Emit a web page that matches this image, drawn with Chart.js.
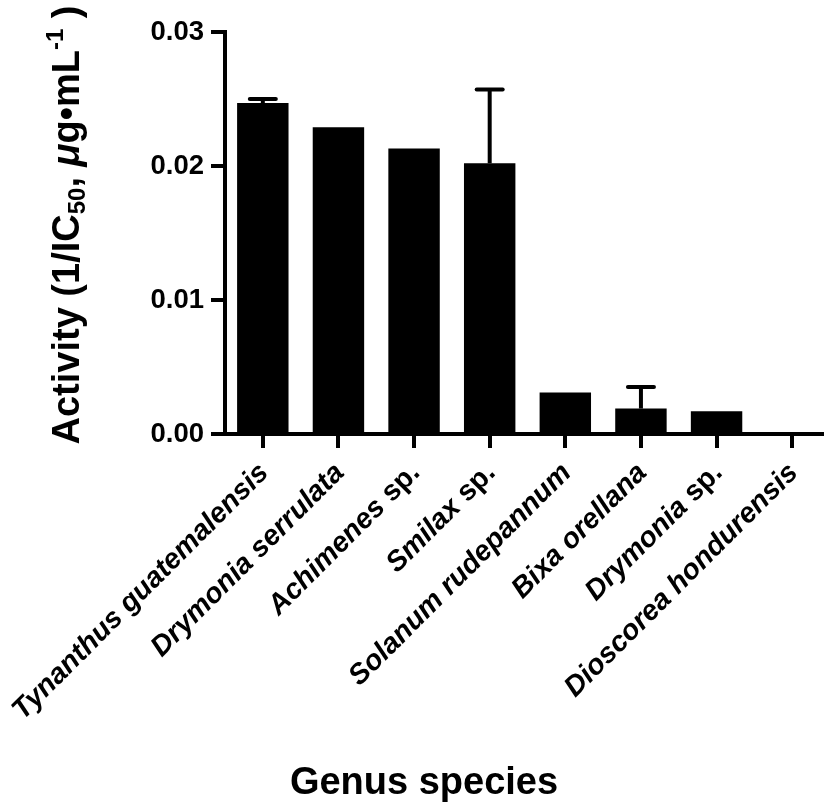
<!DOCTYPE html>
<html>
<head>
<meta charset="utf-8">
<title>Activity by genus species</title>
<script src="https://cdn.jsdelivr.net/npm/chart.js@4.4.1/dist/chart.umd.min.js"></script>
<style>
    html, body { margin: 0; padding: 0; background: #fff; overflow: hidden; }
    #wrap { width: 824px; height: 803px; overflow: hidden; }
    canvas { display: block; }
</style>
</head>
<body>
<div id="wrap">
    <canvas id="activityChart" width="840" height="803" style="width:840px;height:803px"></canvas>
</div>
<script>
// data
var genus = ['Tynanthus', 'Drymonia', 'Achimenes', 'Smilax', 'Solanum', 'Bixa', 'Drymonia', 'Dioscorea'];
var species = ['guatemalensis', 'serrulata', 'sp.', 'sp.', 'rudepannum', 'orellana', 'sp.', 'hondurensis'];
var activity = [0.0247, 0.0229, 0.0213, 0.0202, 0.0031, 0.0019, 0.0017, 0.0000];
var activityErr = [0.0003, 0, 0, 0.0055, 0, 0.0016, 0, 0];
var yTicks = [0.00, 0.01, 0.02, 0.03];

(function () {
    var FONT = "'Liberation Sans', Arial, Helvetica, sans-serif";
    var labels = genus.map(function (g, i) { return g + ' ' + species[i]; });

    // upward-only error bars with a cap
    var errorBars = {
        id: 'errorBars',
        afterDatasetsDraw: function (chart) {
            var ctx = chart.ctx;
            var y = chart.scales.y;
            var meta = chart.getDatasetMeta(0);
            ctx.save();
            ctx.strokeStyle = '#000';
            ctx.lineWidth = 4;
            meta.data.forEach(function (bar, i) {
                if (!activityErr[i]) return;
                var top = y.getPixelForValue(activity[i] + activityErr[i]);
                var base = y.getPixelForValue(activity[i]);
                ctx.lineCap = 'butt';
                ctx.beginPath();
                ctx.moveTo(bar.x, base);
                ctx.lineTo(bar.x, top);
                ctx.stroke();
                ctx.lineCap = 'round';
                ctx.beginPath();
                ctx.moveTo(bar.x - 13, top);
                ctx.lineTo(bar.x + 13, top);
                ctx.stroke();
            });
            ctx.restore();
        }
    };

    // draws a row of styled pieces starting at x=0 on the current baseline
    function drawPieces(ctx, pieces) {
        var x = 0;
        pieces.forEach(function (p) {
            ctx.font = p.font;
            ctx.fillText(p.text, x, p.dy || 0);
            x += ctx.measureText(p.text).width;
        });
        return x;
    }
    function measurePieces(ctx, pieces) {
        var w = 0;
        pieces.forEach(function (p) {
            ctx.font = p.font;
            w += ctx.measureText(p.text).width;
        });
        return w;
    }

    // italic genus names, upright "sp.", plus the axis titles
    var textLayer = {
        id: 'textLayer',
        afterDraw: function (chart) {
            var ctx = chart.ctx;
            var x = chart.scales.x;
            var area = chart.chartArea;
            var it = 'italic bold 28.5px ' + FONT;
            var up = 'bold 28.5px ' + FONT;

            ctx.save();
            ctx.fillStyle = '#000';
            ctx.textBaseline = 'alphabetic';
            ctx.textAlign = 'left';
            genus.forEach(function (g, i) {
                var pieces = [{ text: g + ' ', font: it }];
                pieces.push({ text: species[i], font: species[i] === 'sp.' ? up : it });
                var w = measurePieces(ctx, pieces);
                ctx.save();
                ctx.translate(x.getPixelForTick(i) + 7, area.bottom + 40);
                ctx.rotate(-Math.PI / 4);
                ctx.translate(-w, 0);
                drawPieces(ctx, pieces);
                ctx.restore();
            });

            // y title
            var big = 'bold 38px ' + FONT;
            var small = 'bold 24px ' + FONT;
            var title = [
                { text: 'Activity (1/IC', font: big },
                { text: '50', font: small, dy: 6 },
                { text: ', ', font: big },
                { text: 'μ', font: 'italic bold 38px ' + FONT },
                { text: 'g•mL', font: big },
                { text: '-1', font: small, dy: -16 },
                { text: ' )', font: big }
            ];
            var tw = measurePieces(ctx, title);
            ctx.save();
            ctx.translate(79, 225);
            ctx.rotate(-Math.PI / 2);
            ctx.translate(-tw / 2, 0);
            drawPieces(ctx, title);
            ctx.restore();

            // x title
            ctx.font = 'bold 38px ' + FONT;
            ctx.textAlign = 'center';
            ctx.fillText('Genus species', 424, 794);
            ctx.restore();
        }
    };

    var ctx = document.getElementById('activityChart').getContext('2d');
    new Chart(ctx, {
        type: 'bar',
        data: {
            labels: labels,
            datasets: [{
                data: activity,
                backgroundColor: '#000',
                borderWidth: 0,
                categoryPercentage: 1,
                barPercentage: 0.68
            }]
        },
        options: {
            responsive: false,
            animation: false,
            layout: { padding: { top: 32, right: 10, left: 0, bottom: 0 } },
            plugins: { legend: { display: false }, tooltip: { enabled: false } },
            scales: {
                x: {
                    offset: true,
                    grid: { offset: false, drawOnChartArea: false, drawTicks: true, tickLength: 14, lineWidth: 4, color: '#000' },
                    border: { display: true, color: '#000', width: 4 },
                    ticks: { display: false },
                    afterFit: function (s) { s.height = 803 - 434; }
                },
                y: {
                    min: 0,
                    max: 0.03,
                    afterBuildTicks: function (s) { s.ticks = yTicks.map(function (v) { return { value: v }; }); },
                    grid: { drawOnChartArea: false, drawTicks: true, tickLength: 14, lineWidth: 4, color: '#000' },
                    border: { display: true, color: '#000', width: 4 },
                    ticks: {
                        color: '#000',
                        padding: 7,
                        font: { family: FONT, size: 27.5, weight: 'bold' },
                        callback: function (v) { return Number(v).toFixed(2); }
                    },
                    afterFit: function (s) { s.width = 225; }
                }
            }
        },
        plugins: [errorBars, textLayer]
    });
})();
</script>
</body>
</html>
